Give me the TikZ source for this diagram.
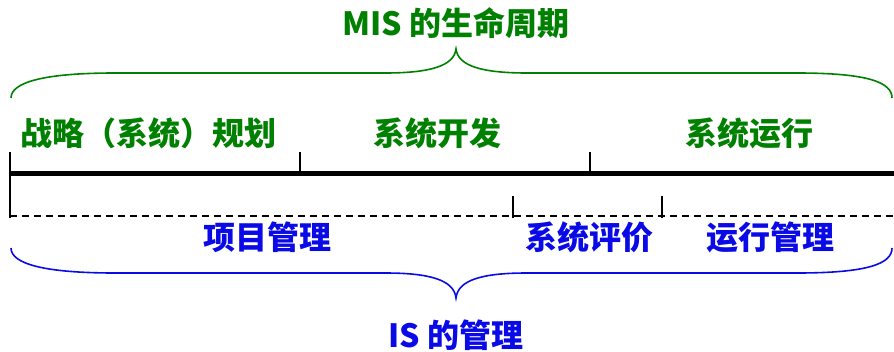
\documentclass[tikz,border=0pt]{standalone}
\usepackage{fontspec}
\newfontfamily\cjk{Noto Sans CJK SC}
\definecolor{mgreen}{RGB}{0,128,0}
\definecolor{mblue}{RGB}{10,10,230}
\begin{document}
\begin{tikzpicture}[x=1pt,y=-1pt,
  lbl/.style={inner sep=0pt,font=\cjk\bfseries\fontsize{32}{32}\selectfont},
  glbl/.style={lbl,text=mgreen},
  blbl/.style={lbl,text=mblue},
  tick/.style={line width=1.4pt,black},
  brace/.style={line width=1.6pt}]
\useasboundingbox (0,0) rectangle (894,351);
% top title and brace
\node[glbl] (mis) at (456,23) {MIS 的生命周期};
\draw[brace,mgreen] (11,98) .. controls (11,82) and (45,73) .. (115,73) -- (385,73)
  .. controls (430,73) and (454,66) .. (456,49)
  .. controls (458,66) and (482,73) .. (527,73) -- (797,73)
  .. controls (867,73) and (892,82) .. (892,98);
% stage labels
\node[glbl] (plan) at (148,133) {战略（系统）规划};
\node[glbl] (dev) at (437,133) {系统开发};
\node[glbl] (run) at (749,133) {系统运行};
% main axis
\coordinate (a0) at (10,173);
\coordinate (aE) at (894,173);
\draw[line width=5pt] (a0) -- (aE);
\coordinate (t1) at (300,152);
\coordinate (t1b) at (300,173);
\coordinate (t2) at (590,152);
\coordinate (t2b) at (590,173);
\coordinate (t0) at (10,152);
\coordinate (t0b) at (10,218);
\draw[tick] (t0) -- (t0b);
\draw[tick] (t1) -- (t1b);
\draw[tick] (t2) -- (t2b);
% dashed axis
\coordinate (d0) at (10,216);
\coordinate (dE) at (894,216);
\draw[line width=1.2pt,dash pattern=on 7pt off 5pt] (d0) -- (dE);
\coordinate (u1) at (513,196);
\coordinate (u1b) at (513,218);
\coordinate (u2) at (662,196);
\coordinate (u2b) at (662,218);
\draw[tick] (u1) -- (u1b);
\draw[tick] (u2) -- (u2b);
% management labels
\node[blbl] (proj) at (267,237) {项目管理};
\node[blbl] (eval) at (589,237) {系统评价};
\node[blbl] (ops) at (770,237) {运行管理};
% bottom brace and title
\draw[brace,mblue] (11,248) .. controls (11,264) and (45,273) .. (115,273) -- (385,273)
  .. controls (430,273) and (454,280) .. (456,298)
  .. controls (458,280) and (482,273) .. (527,273) -- (797,273)
  .. controls (867,273) and (892,264) .. (892,248);
\node[blbl] (is) at (456,335) {IS 的管理};
\end{tikzpicture}
\end{document}
